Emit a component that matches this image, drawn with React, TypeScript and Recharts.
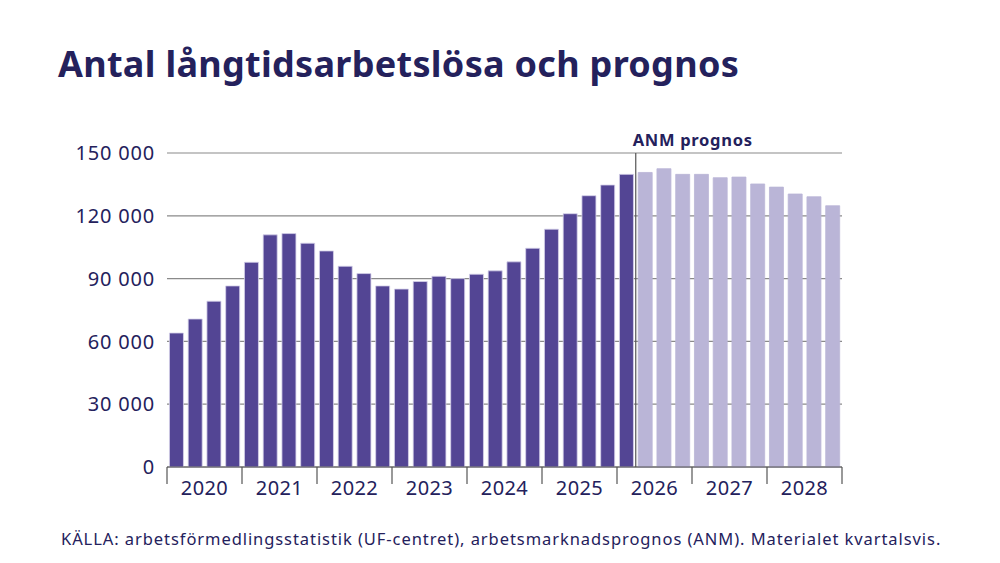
import { BarChart, Bar, XAxis, YAxis, CartesianGrid, ReferenceLine, Cell } from 'recharts';

const years = ['2020', '2021', '2022', '2023', '2024', '2025', '2026', '2027', '2028'];
const quarterNames = ['K1', 'K2', 'K3', 'K4'];

// Utfall, kvartalsvis från 2020 K1 till 2026 K1
const actualValues = [
  64000, 70700, 79200, 86500,
  97800, 110900, 111500, 106900,
  103200, 95900, 92400, 86500,
  85000, 88600, 91100, 90000,
  92100, 93700, 98000, 104500,
  113600, 121000, 129600, 134700,
  139800,
];

// ANM prognos, 2026 K2 till 2028 K4
const forecastValues = [
  140700, 142500, 139800,
  139800, 138200, 138500, 135200,
  133700, 130400, 129100, 124800,
];

const yTicks = [0, 30000, 60000, 90000, 120000, 150000];
const forecastStart = '2026 K2';

const quarters = years.flatMap((y) => quarterNames.map((q) => `${y} ${q}`));
const allValues = [...actualValues, ...forecastValues];
const data = quarters.map((q, i) => ({
  quarter: q,
  year: q.slice(0, 4),
  value: allValues[i],
  forecast: i >= actualValues.length,
}));

const NAVY = '#24215c';
const DARK_BAR = '#534594';
const LIGHT_BAR = '#bab5d7';
const FONT = '"Noto Sans", sans-serif';

const formatThousands = (v: number) => String(v).replace(/\B(?=(\d{3})+(?!\d))/g, ' ');

const YearTick = (props: any) => {
  const { x, y, payload, index } = props;
  const half = payload && payload.offset ? payload.offset : 9.4;
  const q = index % 4;
  return (
    <g>
      {q === 0 && <line x1={x - half} x2={x - half} y1={y} y2={y + 17} stroke="#555" strokeWidth={1.2} />}
      {index === data.length - 1 && (
        <line x1={x + half} x2={x + half} y1={y} y2={y + 17} stroke="#555" strokeWidth={1.2} />
      )}
      {q === 1 && (
        <text x={x + half} y={y + 28} textAnchor="middle" fill={NAVY} fontSize={20} fontFamily={FONT} letterSpacing={0.4}>
          {payload.value.slice(0, 4)}
        </text>
      )}
    </g>
  );
};

const PrognosLabel = (props: any) => {
  const { viewBox } = props;
  return (
    <text
      x={viewBox.x - 3}
      y={viewBox.y - 7}
      fill={NAVY}
      fontSize={16.5}
      fontWeight={700}
      letterSpacing={0.7}
      fontFamily={FONT}
    >
      ANM prognos
    </text>
  );
};

export default function App() {
  return (
    <div style={{ position: 'absolute', left: 0, top: 0, width: 1000, height: 563, background: '#fff', fontFamily: FONT }}>
      <div
        style={{
          position: 'absolute',
          left: 58,
          top: 46,
          fontSize: 36,
          lineHeight: '36px',
          fontWeight: 700,
          letterSpacing: 0.3,
          color: NAVY,
          whiteSpace: 'nowrap',
        }}
      >
        Antal långtidsarbetslösa och prognos
      </div>
      <BarChart
        width={1000}
        height={563}
        data={data}
        margin={{ top: 153, right: 158, bottom: 0, left: 0 }}
        barCategoryGap="13%"
      >
        <CartesianGrid horizontal vertical={false} stroke="#8a8a8a" strokeWidth={1.2} />
        <XAxis
          dataKey="quarter"
          height={96}
          interval={0}
          tickSize={0}
          tickMargin={0}
          tickLine={false}
          axisLine={{ stroke: '#555', strokeWidth: 1.2 }}
          tick={<YearTick />}
        />
        <YAxis
          width={167}
          domain={[0, 150000]}
          ticks={yTicks}
          tickFormatter={formatThousands}
          axisLine={false}
          tickLine={false}
          tickSize={0}
          tickMargin={12}
          tick={{ fill: NAVY, fontSize: 20, fontFamily: FONT, letterSpacing: 0.8 }}
        />
        <Bar dataKey="value" isAnimationActive={false} stroke="#d6d2ea" strokeWidth={0.8}>
          {data.map((d) => (
            <Cell key={d.quarter} fill={d.forecast ? LIGHT_BAR : DARK_BAR} stroke={d.forecast ? LIGHT_BAR : '#d6d2ea'} />
          ))}
        </Bar>
        <ReferenceLine
          x={forecastStart}
          position="start"
          stroke="#555"
          strokeWidth={1.2}
          label={<PrognosLabel />}
        />
      </BarChart>
      <div
        style={{
          position: 'absolute',
          left: 61,
          top: 531,
          fontSize: 16.5,
          lineHeight: '16px',
          letterSpacing: 0.93,
          color: NAVY,
          whiteSpace: 'nowrap',
        }}
      >
        KÄLLA: arbetsförmedlingsstatistik (UF-centret), arbetsmarknadsprognos (ANM). Materialet kvartalsvis.
      </div>
    </div>
  );
}
